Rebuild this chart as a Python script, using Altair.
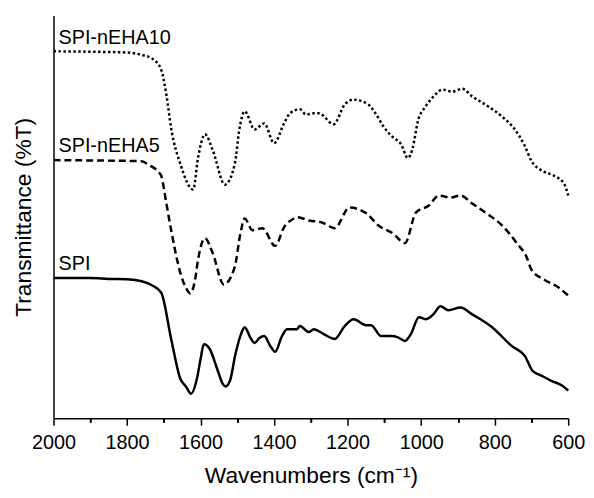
import altair as alt
import pandas as pd

# SPI (solid)
spi_wn = [2000, 1950, 1900, 1850, 1800, 1760, 1730, 1707, 1680, 1655, 1640, 1626, 1610, 1600,
          1591, 1575, 1555, 1540, 1532, 1520, 1505, 1490, 1480, 1465, 1453, 1440, 1427, 1410,
          1397, 1380, 1365, 1338, 1330, 1305, 1292, 1265, 1235, 1208, 1184, 1149, 1136, 1109,
          1082, 1063, 1044, 1028, 1006, 988, 969, 947, 926, 893, 861, 807, 753, 718, 697, 673,
          646, 616, 600]
spi_t = [34.8, 34.8, 34.8, 34.6, 34.5, 34.0, 32.9, 31.2, 19.7, 9.8, 7.9, 6.1, 9.8, 14.7,
         18.4, 17.2, 12.3, 8.6, 7.9, 9.3, 16.0, 20.9, 22.6, 20.1, 18.7, 19.9, 20.4, 17.9,
         16.5, 20.1, 22.1, 22.1, 22.9, 21.4, 22.1, 20.9, 19.7, 22.9, 24.6, 23.1, 23.1, 20.4,
         20.4, 20.1, 19.2, 20.9, 25.1, 24.6, 25.6, 27.8, 26.8, 27.5, 25.8, 22.6, 17.9, 15.5,
         11.8, 10.6, 9.3, 8.1, 6.9]

# SPI-nEHA5 (dashed)
eha5_wn = [2000, 1900, 1800, 1760, 1741, 1715, 1707, 1693, 1680, 1655, 1640, 1628, 1615, 1607,
           1588, 1567, 1537, 1507, 1491, 1480, 1459, 1432, 1397, 1373, 1346, 1338, 1305, 1270,
           1235, 1195, 1149, 1117, 1077, 1044, 1014, 979, 952, 920, 893, 861, 826, 780, 740,
           713, 700, 665, 630, 600]
eha5_t = [64.1, 64.0, 63.9, 63.8, 62.9, 61.2, 60.2, 53.3, 46.7, 36.1, 32.4, 31.0, 34.4, 39.3,
          44.7, 41.0, 33.2, 37.6, 46.2, 49.6, 46.7, 47.2, 42.8, 47.4, 49.6, 49.9, 49.1, 48.6,
          47.2, 52.3, 50.9, 47.9, 45.9, 43.5, 51.1, 52.8, 55.3, 54.8, 55.3, 53.3, 51.1, 47.9,
          43.5, 40.0, 36.9, 34.4, 32.7, 30.5]

# SPI-nEHA10 (dotted)
eha10_wn = [2000, 1900, 1800, 1760, 1730, 1707, 1693, 1680, 1655, 1620, 1607, 1588, 1566, 1534,
            1507, 1494, 1480, 1453, 1427, 1400, 1373, 1357, 1330, 1313, 1292, 1278, 1238, 1208,
            1184, 1144, 1122, 1103, 1077, 1055, 1036, 1023, 1009, 988, 966, 942, 915, 888, 861,
            826, 780, 745, 718, 700, 670, 638, 611, 600]
eha10_t = [91.1, 91.0, 90.8, 90.2, 89.2, 86.5, 80.3, 72.0, 63.1, 56.8, 64.6, 70.5, 66.3, 58.0,
           63.1, 72.0, 76.2, 71.7, 73.2, 68.3, 73.2, 75.7, 76.7, 75.4, 75.7, 75.7, 73.0, 77.9,
           79.1, 77.9, 75.4, 72.5, 69.8, 68.1, 64.6, 67.1, 73.7, 77.4, 79.9, 81.6, 81.1, 81.8,
           79.9, 77.9, 74.9, 71.7, 67.6, 63.9, 61.4, 60.2, 58.2, 55.3]

# series labels
lbl_text = ["SPI-nEHA10", "SPI-nEHA5", "SPI"]
lbl_wn = [1986.5, 1986.5, 1986.5]
lbl_t = [92.9, 66.2, 36.9]

major_ticks = list(range(600, 2001, 200))
minor_ticks = list(range(700, 2000, 200))

FONT = "Liberation Sans"

xscale = alt.Scale(domain=[600, 2000], reverse=True, nice=False, zero=False)
yscale = alt.Scale(domain=[0, 100], nice=False, zero=False)

xaxis_major = alt.Axis(
    title="Wavenumbers (cm⁻¹)",
    orient="bottom",
    values=major_ticks,
    format="d",
    labelFlush=False,
    labelOverlap=False,
    tickSize=7,
    tickColor="black",
    tickWidth=1.5,
    domainColor="black",
    domainWidth=1.5,
    grid=False,
    labelFont=FONT,
    labelFontSize=20,
    labelColor="black",
    labelPadding=8,
    titleFont=FONT,
    titleFontSize=23,
    titleFontWeight="normal",
    titleColor="black",
    titlePadding=12,
)
xaxis_minor = alt.Axis(
    title=None and "",
    orient="bottom",
    values=minor_ticks,
    labels=False,
    tickSize=4,
    tickColor="black",
    tickWidth=1.5,
    domain=False,
    grid=False,
)
yaxis = alt.Axis(
    title="Transmittance (%T)",
    labels=False,
    ticks=False,
    grid=False,
    domainColor="black",
    domainWidth=1.5,
    titleFont=FONT,
    titleFontSize=23,
    titleFontWeight="normal",
    titleColor="black",
    titlePadding=18,
)

def line(wn, t, dash, xaxis):
    df = pd.DataFrame({"wn": wn, "t": t})
    kw = dict(color="black", strokeWidth=2.5, interpolate="monotone")
    if dash:
        kw["strokeDash"] = dash
    return alt.Chart(df).mark_line(**kw).encode(
        x=alt.X("wn:Q", scale=xscale, axis=xaxis),
        y=alt.Y("t:Q", scale=yscale, axis=yaxis),
    )

l_spi = line(spi_wn, spi_t, None, xaxis_major)
l_5 = line(eha5_wn, eha5_t, [7, 4], xaxis_minor)
l_10 = line(eha10_wn, eha10_t, [2.5, 2.5], xaxis_minor)

lbl_df = pd.DataFrame({"wn": lbl_wn, "t": lbl_t, "txt": lbl_text})
labels = alt.Chart(lbl_df).mark_text(
    align="left", baseline="alphabetic", font=FONT, fontSize=20, color="black"
).encode(
    x=alt.X("wn:Q", scale=xscale, axis=xaxis_minor),
    y=alt.Y("t:Q", scale=yscale, axis=yaxis),
    text="txt:N",
)

chart = alt.layer(l_spi, l_5, l_10, labels).resolve_axis(x="independent").properties(
    width=520,
    height=407,
    autosize=alt.AutoSizeParams(type="none"),
    padding={"left": 46, "top": 5, "right": 18, "bottom": 76},
).configure_view(strokeWidth=0)

chart.save("out.html", embed_options={"renderer": "svg", "actions": False})
